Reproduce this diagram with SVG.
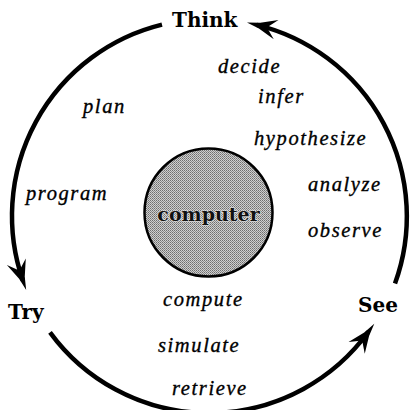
<svg xmlns="http://www.w3.org/2000/svg" width="411" height="410" viewBox="0 0 411 410">
  <style>
    .cycle { fill: none; stroke: #000; stroke-width: 4.5; stroke-linecap: butt; }
    .stage { font-family: "DejaVu Serif", "Liberation Serif", serif; font-weight: bold; font-size: 20px; fill: #000; }
    .verb { font-family: "Liberation Serif", "Times New Roman", serif; font-style: italic; font-size: 20.5px; letter-spacing: 1.6px; fill: #000; stroke: #000; stroke-width: 0.35; }
    .core-label { font-family: "DejaVu Serif", "Liberation Serif", serif; font-weight: bold; font-size: 19px; fill: #111; stroke: #e6e6e6; stroke-width: 1.2; paint-order: stroke; }
  </style>
  <defs>
    <!-- halftone-like grey fill for the central disc -->
    <pattern id="halftone" width="2" height="2" patternUnits="userSpaceOnUse">
      <rect width="2" height="2" fill="#cfcfcf"/>
      <rect width="1" height="1" fill="#6e6e6e"/>
      <rect x="1" y="1" width="1" height="1" fill="#8a8a8a"/>
    </pattern>
    <!-- barbed arrowhead; tip sits 10px beyond the end of the arc -->
    <marker id="barb" markerUnits="userSpaceOnUse" markerWidth="60" markerHeight="40" refX="0" refY="0" orient="auto" overflow="visible">
      <path d="M10,0 L-3,-3 L-20,-10 L-12,-1.5 L-12,1.5 L-20,10 L-3,3 Z" fill="#000"/>
    </marker>
  </defs>

  <!-- cycle connectors -->
  <g id="connectors">
    <path id="think-to-try" class="cycle" d="M162,24.6 A197,197 0 0 0 22.9,280.6" marker-end="url(#barb)"/>
    <path id="try-to-see" class="cycle" d="M50,332.3 A197,197 0 0 0 368.4,331.8" marker-end="url(#barb)"/>
    <path id="see-to-think" class="cycle" d="M395,283.5 A197,197 0 0 0 256.7,24.9" marker-end="url(#barb)"/>
  </g>

  <!-- stage nodes -->
  <g id="think"><text class="stage" x="172" y="27">Think</text></g>
  <g id="try"><text class="stage" x="8" y="319">Try</text></g>
  <g id="see"><text class="stage" x="358" y="312">See</text></g>

  <!-- central computer -->
  <g id="computer">
    <circle cx="208.5" cy="212.5" r="64" fill="url(#halftone)" stroke="#000" stroke-width="2.5"/>
    <text class="core-label" x="208.5" y="221" text-anchor="middle">computer</text>
  </g>

  <!-- activities of thinking -->
  <g id="think-verbs">
    <text class="verb" x="218" y="73">decide</text>
    <text class="verb" x="258" y="103">infer</text>
    <text class="verb" x="254" y="145">hypothesize</text>
    <text class="verb" x="83" y="113">plan</text>
  </g>
  <!-- activities of seeing -->
  <g id="see-verbs">
    <text class="verb" x="308" y="191">analyze</text>
    <text class="verb" x="308" y="237">observe</text>
  </g>
  <!-- activities of trying -->
  <g id="try-verbs">
    <text class="verb" x="26" y="200">program</text>
    <text class="verb" x="163" y="306">compute</text>
    <text class="verb" x="158" y="352">simulate</text>
    <text class="verb" x="172" y="395">retrieve</text>
  </g>
</svg>
